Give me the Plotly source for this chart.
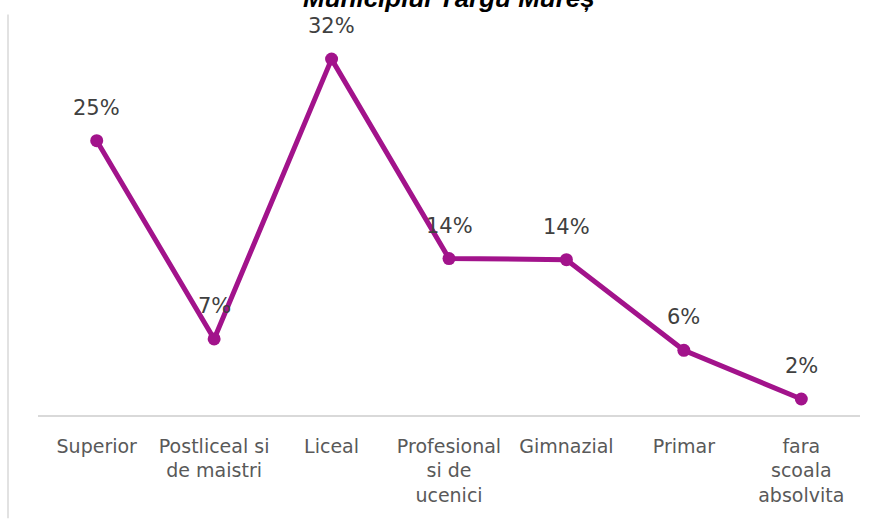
import plotly.graph_objects as go

categories = ["Superior", "Postliceal si<br>de maistri", "Liceal", "Profesional<br>si de<br>ucenici",
              "Gimnazial", "Primar", "fara<br>scoala<br>absolvita"]
values = [24.8, 7.3, 32.0, 14.4, 14.3, 6.3, 2.0]
labels = ["25%", "7%", "32%", "14%", "14%", "6%", "2%"]
title_text = "Municipiul Târgu Mureș"

LINE = "#A2138B"
FONT = "'DejaVu Sans', sans-serif"

fig = go.Figure()
fig.add_trace(go.Scatter(
    x=categories, y=values, mode="lines+markers",
    line=dict(color=LINE, width=5),
    marker=dict(color=LINE, size=13),
    hoverinfo="skip", showlegend=False,
))

for c, v, t in zip(categories, values, labels):
    fig.add_annotation(x=c, y=v, text=t, showarrow=False, yshift=33,
                       font=dict(family=FONT, size=21, color="#404040"))

fig.add_annotation(xref="paper", yref="paper", x=0.5, y=1.038, yanchor="bottom",
                   text="<b><i>" + title_text + "</i></b>", showarrow=False,
                   font=dict(family="Liberation Sans, Arial, sans-serif", size=26, color="#000000"))

fig.add_shape(type="line", xref="paper", yref="paper", x0=-0.0365, x1=-0.0365,
              y0=-0.268, y1=1.04, line=dict(color="#d9d9d9", width=1.5))

fig.update_layout(
    width=877, height=521,
    margin=dict(l=38, r=17, t=30, b=106),
    plot_bgcolor="white", paper_bgcolor="white",
    xaxis=dict(range=[-0.5, 6.5], showgrid=False, showline=True, linecolor="#d9d9d9", linewidth=1.5,
               ticks="", ticklabelstandoff=13,
               tickfont=dict(family=FONT, size=19, color="#595959"),
               fixedrange=True, automargin=False),
    yaxis=dict(range=[0.59, 34.57], showgrid=False, showticklabels=False,
               zeroline=False, showline=False, fixedrange=True, automargin=False),
)

fig.write_html("out.html", config={"displayModeBar": False},
               post_script="document.body.style.margin='0';document.body.style.overflow='hidden';")
